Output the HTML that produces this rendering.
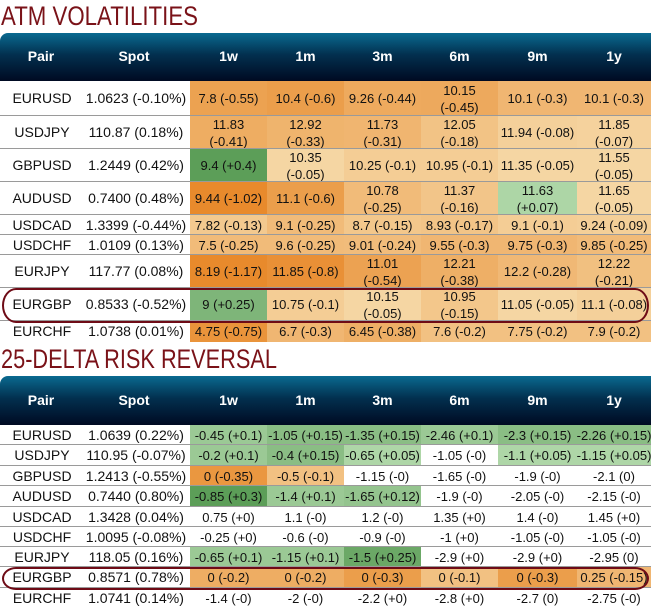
<!DOCTYPE html>
<html><head><meta charset="utf-8">
<style>
body{margin:0;width:651px;height:611px;background:#fff;position:relative;overflow:hidden;font-family:"Liberation Sans Narrow","Liberation Sans",sans-serif;}
.title{position:absolute;left:0;}
.hdr{position:absolute;left:0;width:651px;background:linear-gradient(#0a6a90,#02304f 45%,#000a22);border-top-left-radius:8px;}
.hl{position:absolute;color:#fff;font-weight:bold;font-size:14px;text-align:center;width:70px;margin-left:-35px;}
.cell{position:absolute;display:flex;align-items:center;justify-content:center;text-align:center;font-size:13px;color:#111;line-height:17px;white-space:nowrap;overflow:visible;}
.lab{font-size:14px;}
.sep{position:absolute;left:0;width:651px;height:1px;background:#9a9a9a;}
.ring{position:absolute;box-sizing:border-box;border:2.5px solid #6e0b16;border-radius:14px/50%;}
</style></head><body>
<svg class="title" style="top:0" width="260" height="32"><text x="1" y="25" font-size="27" fill="#7a1218" textLength="197" lengthAdjust="spacingAndGlyphs" font-family="Liberation Sans Narrow, Liberation Sans, sans-serif">ATM VOLATILITIES</text></svg>
<svg class="title" style="top:343px" width="300" height="32"><text x="1" y="25" font-size="27" fill="#7a1218" textLength="276" lengthAdjust="spacingAndGlyphs" font-family="Liberation Sans Narrow, Liberation Sans, sans-serif">25-DELTA RISK REVERSAL</text></svg>
<div id="root"></div>
<script>
const pairs=["EURUSD","USDJPY","GBPUSD","AUDUSD","USDCAD","USDCHF","EURJPY","EURGBP","EURCHF"];
const tenors=["1w","1m","3m","6m","9m","1y"];
const atmSpot=["1.0623 (-0.10%)","110.87 (0.18%)","1.2449 (0.42%)","0.7400 (0.48%)","1.3399 (-0.44%)","1.0109 (0.13%)","117.77 (0.08%)","0.8533 (-0.52%)","1.0738 (0.01%)"];
const atmVals=[
["7.8","10.4","9.26","10.15","10.1","10.1"],
["11.83","12.92","11.73","12.05","11.94","11.85"],
["9.4","10.35","10.25","10.95","11.35","11.55"],
["9.44","11.1","10.78","11.37","11.63","11.65"],
["7.82","9.1","8.7","8.93","9.1","9.24"],
["7.5","9.6","9.01","9.55","9.75","9.85"],
["8.19","11.85","11.01","12.21","12.2","12.22"],
["9","10.75","10.15","10.95","11.05","11.1"],
["4.75","6.7","6.45","7.6","7.75","7.9"]];
const atmChg=[
["-0.55","-0.6","-0.44","-0.45","-0.3","-0.3"],
["-0.41","-0.33","-0.31","-0.18","-0.08","-0.07"],
["+0.4","-0.05","-0.1","-0.1","-0.05","-0.05"],
["-1.02","-0.6","-0.25","-0.16","+0.07","-0.05"],
["-0.13","-0.25","-0.15","-0.17","-0.1","-0.09"],
["-0.25","-0.25","-0.24","-0.3","-0.3","-0.25"],
["-1.17","-0.8","-0.54","-0.38","-0.28","-0.21"],
["+0.25","-0.1","-0.05","-0.15","-0.05","-0.08"],
["-0.75","-0.3","-0.38","-0.2","-0.2","-0.2"]];
const atmWrap=[
[0,0,0,1,0,0],[1,1,1,1,0,1],[0,1,0,0,0,1],[0,0,1,1,1,1],[0,0,0,0,0,0],[0,0,0,0,0,0],[0,0,1,1,0,1],[0,0,1,1,0,0],[0,0,0,0,0,0]];
const rrSpot=["1.0639 (0.22%)","110.95 (-0.07%)","1.2413 (-0.55%)","0.7440 (0.80%)","1.3428 (0.04%)","1.0095 (-0.08%)","118.05 (0.16%)","0.8571 (0.78%)","1.0741 (0.14%)"];
const rrVals=[
["-0.45","-1.05","-1.35","-2.46","-2.3","-2.26"],
["-0.2","-0.4","-0.65","-1.05","-1.1","-1.15"],
["0","-0.5","-1.15","-1.65","-1.9","-2.1"],
["-0.85","-1.4","-1.65","-1.9","-2.05","-2.15"],
["0.75","1.1","1.2","1.35","1.4","1.45"],
["-0.25","-0.6","-0.9","-1","-1.05","-1.05"],
["-0.65","-1.15","-1.5","-2.9","-2.9","-2.95"],
["0","0","0","0","0","0.25"],
["-1.4","-2","-2.2","-2.8","-2.7","-2.75"]];
const rrChg=[
["+0.1","+0.15","+0.15","+0.1","+0.15","+0.15"],
["+0.1","+0.15","+0.05","-0","+0.05","+0.05"],
["-0.35","-0.1","-0","-0","-0","0"],
["+0.3","+0.1","+0.12","-0","-0","-0"],
["+0","-0","-0","+0","-0","+0"],
["+0","-0","-0","+0","-0","-0"],
["+0.1","+0.1","+0.25","+0","+0","0"],
["-0.2","-0.2","-0.3","-0.1","-0.3","-0.15"],
["-0","-0","+0","+0","0","-0"]];

const colX=[190,267,344,421,498,577,651];
const root=document.getElementById('root');
function mix(a,b,t){return 'rgb('+a.map((v,i)=>Math.round(v+(b[i]-v)*t)).join(',')+')';}
function color(c,negScale,posScale){
  const v=parseFloat(c);
  if(v===0) return '#ffffff';
  if(v<0){const t=Math.pow(Math.min(1,-v/negScale),0.6);return mix([248,230,188],[232,138,44],t);}
  const t=Math.pow(Math.min(1,v/posScale),0.8);return mix([200,232,192],[92,158,88],t);
}
function add(tag,cls,style,name,text){
  const e=document.createElement(tag);e.className=cls;e.style.cssText=style;
  
  
  if(text!==undefined) e.innerHTML=text;
  root.appendChild(e);return e;
}
function table(prefix,hTop,hH,rowYs,spot,vals,chg,wrap,negS,posS,ring){
  add('div','hdr','top:'+hTop+'px;height:'+hH+'px',prefix+'-header');
  const heads=[["Pair",41],["Spot",134]].concat(tenors.map((t,i)=>[t,(colX[i]+colX[i+1])/2]));
  heads.forEach(h=>{
    add('div','hl','left:'+h[1]+'px;top:'+(hTop+hH/2-9)+'px',prefix+'-col-'+h[0].toLowerCase(),h[0]);
  });
  for(let r=0;r<pairs.length;r++){
    const y0=rowYs[r],y1=rowYs[r+1],h=y1-y0;
    add('div','cell lab','left:4px;width:76px;top:'+y0+'px;height:'+h+'px',prefix+'-pair-'+pairs[r].toLowerCase(),pairs[r]);
    add('div','cell lab','left:84px;width:104px;top:'+y0+'px;height:'+h+'px',prefix+'-spot-'+pairs[r].toLowerCase(),spot[r]);
    for(let c=0;c<6;c++){
      const txt=vals[r][c]+(wrap&&wrap[r][c]?'<br>':' ')+'('+chg[r][c]+')';
      add('div','cell','left:'+colX[c]+'px;width:'+(colX[c+1]-colX[c])+'px;top:'+y0+'px;height:'+h+'px;background:'+color(chg[r][c],negS,posS),prefix+'-cell-'+pairs[r].toLowerCase()+'-'+tenors[c],txt);
    }
    if(r<pairs.length-1) add('div','sep','top:'+(y1-1)+'px',prefix+'-row-divider');
  }
  add('div','ring',ring,prefix+'-eurgbp-highlight');
}
table('atm',33,48,[81,116,149,182,215,235,255,288,321,342],atmSpot,atmVals,atmChg,atmWrap,0.9,0.4,'left:2px;top:288px;width:647px;height:35px;');
table('rr',376,49,[425,445,466,486,507,527,547,567,588,608],rrSpot,rrVals,rrChg,null,0.45,0.3,'left:2px;top:567px;width:647px;height:23px;');
</script>
</body></html>
